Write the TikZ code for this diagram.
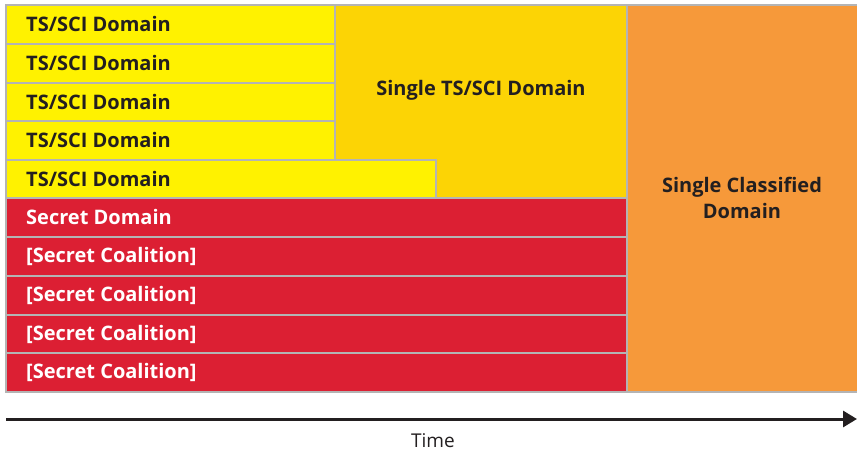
\documentclass[tikz,border=0pt]{standalone}
\usepackage{fontspec}
\setmainfont{Open Sans}
\usetikzlibrary{arrows.meta}
\definecolor{yel}{HTML}{FFF200}
\definecolor{gold}{HTML}{FCD405}
\definecolor{orng}{HTML}{F6993A}
\definecolor{redd}{HTML}{DC1F33}
\definecolor{edge}{HTML}{B4B4B4}
\definecolor{ink}{HTML}{231F20}
\tikzset{
  cell/.style={draw=edge, line width=1.2pt},
  lbl/.style={anchor=west, font=\fontsize{20}{24}\selectfont\bfseries, text=ink, inner sep=0pt},
  wlbl/.style={lbl, text=white},
  big/.style={font=\fontsize{20}{26}\selectfont\bfseries, text=ink, align=center, inner sep=0pt},
}
\begin{document}
\begin{tikzpicture}[x=1pt,y=-1pt]
\useasboundingbox (0,0) rectangle (857,454);
% orange
\fill[orng] (627,5) rectangle (857,392);
\draw[edge, line width=1.2pt] (857,5) -- (627,5) -- (627,392) -- (857,392);
% gold
\draw[cell, fill=gold] (335,5) rectangle (627,198);
% yellow rows
\draw[cell, fill=yel] (6,5) rectangle (335,44);
\draw[cell, fill=yel] (6,44) rectangle (335,83);
\draw[cell, fill=yel] (6,83) rectangle (335,121);
\draw[cell, fill=yel] (6,121) rectangle (335,160);
\draw[cell, fill=yel] (6,160) rectangle (436,198);
% red rows
\draw[cell, fill=redd] (6,198) rectangle (627,237);
\draw[cell, fill=redd] (6,237) rectangle (627,276);
\draw[cell, fill=redd] (6,276) rectangle (627,315);
\draw[cell, fill=redd] (6,315) rectangle (627,353);
\draw[cell, fill=redd] (6,353) rectangle (627,392);
% labels
\node[lbl] (t1) at (26,24.5) {TS/SCI Domain};
\node[lbl] (t2) at (26,63.5) {TS/SCI Domain};
\node[lbl] (t3) at (26,102) {TS/SCI Domain};
\node[lbl] (t4) at (26,140.5) {TS/SCI Domain};
\node[lbl] (t5) at (26,179) {TS/SCI Domain};
\node[wlbl] (s1) at (26,217.5) {Secret Domain};
\node[wlbl] (s2) at (26,256.5) {[Secret Coalition]};
\node[wlbl] (s3) at (26,295.5) {[Secret Coalition]};
\node[wlbl] (s4) at (26,334) {[Secret Coalition]};
\node[wlbl] (s5) at (26,372.5) {[Secret Coalition]};
\node[big] (sts) at (481,90) {Single TS/SCI Domain};
\node[big] (scd) at (742,198) {Single Classified\\Domain};
% time axis
\coordinate (a0) at (6,419);
\coordinate (a1) at (857,419);
\draw[ink, line width=3pt, -{Triangle[length=14pt,width=16pt]}] (a0) -- (a1);
\node[font=\fontsize{19}{22}\selectfont, text=ink, inner sep=0pt] (time) at (433,441) {Time};
\end{tikzpicture}
\end{document}
